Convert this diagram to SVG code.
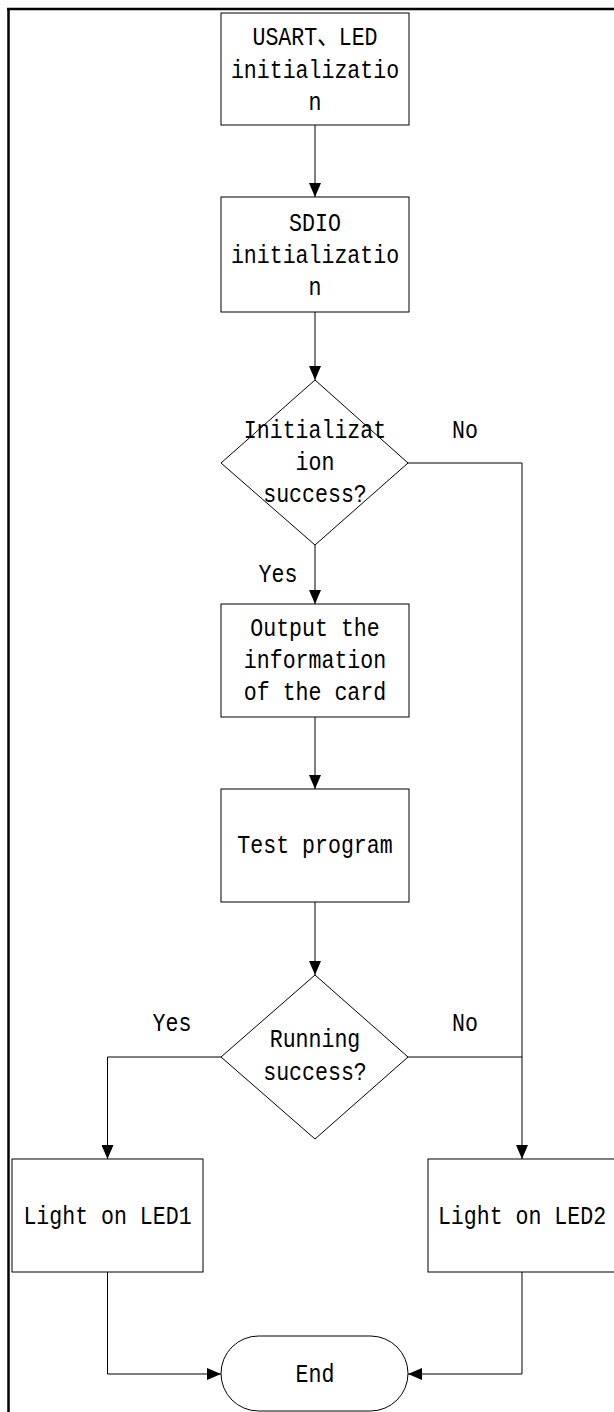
<svg xmlns="http://www.w3.org/2000/svg" width="614" height="1412" viewBox="0 0 614 1412">
<style>
.frame{stroke:#000;stroke-width:2.5;fill:none}
.shape{fill:#fff;stroke:#000;stroke-width:1}
.conn{fill:none;stroke:#000;stroke-width:1}
.t{font-family:"Liberation Mono","Noto Sans CJK SC",monospace;font-size:26px;fill:#000;text-anchor:middle}
</style>
<defs>
<marker id="arr" markerUnits="userSpaceOnUse" markerWidth="14" markerHeight="12" refX="14" refY="6" orient="auto">
<path d="M0,0 L14,6 L0,12 z" fill="#000"/>
</marker>
</defs>
<rect width="614" height="1412" fill="#fff"/>
<g id="frame">
<line class="frame" x1="7" y1="9" x2="614" y2="9"/>
<line class="frame" x1="8.5" y1="8" x2="8.5" y2="1412"/>
</g>
<g id="connectors">
<line class="conn" x1="315" y1="125" x2="315" y2="197" marker-end="url(#arr)"/>
<line class="conn" x1="315" y1="312" x2="315" y2="380" marker-end="url(#arr)"/>
<line class="conn" x1="315" y1="545" x2="315" y2="604" marker-end="url(#arr)"/>
<polyline class="conn" points="408,463 522,463 522,1159" marker-end="url(#arr)"/>
<line class="conn" x1="315" y1="717" x2="315" y2="789" marker-end="url(#arr)"/>
<line class="conn" x1="315" y1="902" x2="315" y2="975" marker-end="url(#arr)"/>
<polyline class="conn" points="221,1057 107.5,1057 107.5,1159" marker-end="url(#arr)"/>
<line class="conn" x1="408" y1="1057" x2="522" y2="1057"/>
<polyline class="conn" points="107.5,1272 107.5,1374 221,1374" marker-end="url(#arr)"/>
<polyline class="conn" points="522,1272 522,1374 408,1374" marker-end="url(#arr)"/>
<text class="t" transform="matrix(0.83 0 0 1 465 438)">No</text>
<text class="t" transform="matrix(0.83 0 0 1 278 582)">Yes</text>
<text class="t" transform="matrix(0.83 0 0 1 172 1031)">Yes</text>
<text class="t" transform="matrix(0.83 0 0 1 465 1031)">No</text>
</g>
<g id="n1">
<rect class="shape" x="221" y="13" width="188" height="112"/>
<text class="t" transform="matrix(0.83 0 0 1 315 45)">USART、LED</text>
<text class="t" transform="matrix(0.83 0 0 1 315 78)">initializatio</text>
<text class="t" transform="matrix(0.83 0 0 1 315 110)">n</text>
</g>
<g id="n2">
<rect class="shape" x="221" y="197" width="188" height="115"/>
<text class="t" transform="matrix(0.83 0 0 1 315 231)">SDIO</text>
<text class="t" transform="matrix(0.83 0 0 1 315 263)">initializatio</text>
<text class="t" transform="matrix(0.83 0 0 1 315 295)">n</text>
</g>
<g id="d1">
<polygon class="shape" points="315,380 408,463 315,545 221,463"/>
<text class="t" transform="matrix(0.83 0 0 1 315 438)">Initializat</text>
<text class="t" transform="matrix(0.83 0 0 1 315 470)">ion</text>
<text class="t" transform="matrix(0.83 0 0 1 315 502)">success?</text>
</g>
<g id="n3">
<rect class="shape" x="221" y="604" width="188" height="113"/>
<text class="t" transform="matrix(0.83 0 0 1 315 636)">Output the</text>
<text class="t" transform="matrix(0.83 0 0 1 315 668)">information</text>
<text class="t" transform="matrix(0.83 0 0 1 315 700)">of the card</text>
</g>
<g id="n4">
<rect class="shape" x="221" y="789" width="188" height="113"/>
<text class="t" transform="matrix(0.83 0 0 1 315 853)">Test program</text>
</g>
<g id="d2">
<polygon class="shape" points="315,975 408,1057 315,1139 221,1057"/>
<text class="t" transform="matrix(0.83 0 0 1 315 1047)">Running</text>
<text class="t" transform="matrix(0.83 0 0 1 315 1080)">success?</text>
</g>
<g id="n5">
<rect class="shape" x="12" y="1159" width="191" height="113"/>
<text class="t" transform="matrix(0.83 0 0 1 107.5 1224)">Light on LED1</text>
</g>
<g id="n6">
<rect class="shape" x="428" y="1159" width="190" height="113"/>
<text class="t" transform="matrix(0.83 0 0 1 522 1224)">Light on LED2</text>
</g>
<g id="end">
<rect class="shape" x="221" y="1336" width="187" height="75" rx="37.5" ry="37.5"/>
<text class="t" transform="matrix(0.83 0 0 1 315 1382)">End</text>
</g>
</svg>
